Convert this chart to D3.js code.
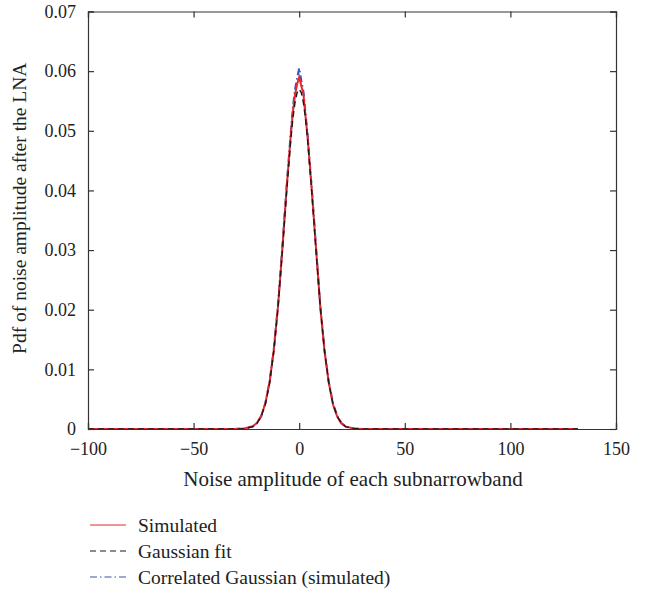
<!DOCTYPE html>
<html>
<head>
<meta charset="utf-8">
<script src="https://cdn.jsdelivr.net/npm/d3@7"></script>
<style>
  body { margin: 0; background: #fff; }
  text { font-family: "Liberation Serif", "DejaVu Serif", serif; fill: #222; }
</style>
</head>
<body>
<div class="container"></div>
<script>
const margin = {
    top: 11.5,
    right: 40,
    bottom: 166,
    left: 88
}

const width = 656 - margin.left - margin.right,
      height = 595 - margin.top - margin.bottom;

// noise amplitude samples
const amplitude = [-100, -60, -40, -30, -26, -22, -20, -18, -16, -14, -12, -10, -8, -6, -4, -3, -2, -1, 0,
    1, 2, 3, 4, 6, 8, 10, 12, 14, 16, 18, 20, 22, 26, 30, 40, 60, 100, 132];

const simulated = [0, 0, 0.00002, 0.00003, 0.00008, 0.00045, 0.0010, 0.0022, 0.0043, 0.0079, 0.0133, 0.0207, 0.0300, 0.0401, 0.0492, 0.0531, 0.0560, 0.0578, 0.0590,
    0.0575, 0.0562, 0.0524, 0.0489, 0.0398, 0.0301, 0.0204, 0.0130, 0.0078, 0.0041, 0.0021, 0.0009, 0.0004, 0.00007, 0.00002, 0, 0, 0, 0];

const gaussianFit = [0, 0, 0, 0.00001, 0.00006, 0.00041, 0.00096, 0.0021, 0.0042, 0.0077, 0.0131, 0.0205, 0.0297, 0.0395, 0.0484, 0.0520, 0.0547, 0.0564, 0.0570,
    0.0564, 0.0547, 0.0520, 0.0484, 0.0395, 0.0297, 0.0205, 0.0131, 0.0077, 0.0042, 0.0021, 0.00096, 0.00041, 0.00006, 0.00001, 0, 0, 0, 0];

const correlated = [0, 0, 0, 0.00001, 0.00006, 0.0004, 0.0010, 0.0021, 0.0044, 0.0080, 0.0135, 0.0210, 0.0305, 0.0405, 0.0497, 0.0538, 0.0569, 0.0588, 0.0605,
    0.0584, 0.0566, 0.0529, 0.0493, 0.0402, 0.0303, 0.0206, 0.0132, 0.0079, 0.0043, 0.0022, 0.0010, 0.0004, 0.00006, 0, 0, 0, 0, 0];

const xTicks = [-100, -50, 0, 50, 100, 150];
const yTicks = [0, 0.01, 0.02, 0.03, 0.04, 0.05, 0.06, 0.07];

const seriesNames = ["Simulated", "Gaussian fit", "Correlated Gaussian (simulated)"];

const series = [
    {name: seriesNames[0], values: simulated, color: "#e8282c", dash: null, w: 2},
    {name: seriesNames[1], values: gaussianFit, color: "#1a1a1a", dash: "6,4", w: 1.4},
    {name: seriesNames[2], values: correlated, color: "#3b55ad", dash: "7,3,1.5,3", w: 2}
];

const svg = d3.select(".container")
    .append("svg")
    .attr("width", 656)
    .attr("height", 595)
    .append("g")
    .attr("transform", `translate(${margin.left}, ${margin.top})`);

const xScale = d3.scaleLinear()
    .domain([-100, 150])
    .range([0, width]);

const yScale = d3.scaleLinear()
    .domain([0, 0.07])
    .range([height, 0]);

const line = d3.line()
    .x((d, i) => xScale(amplitude[i]))
    .y(d => yScale(d));

// curves, drawn under the frame
[series[2], series[0], series[1]].forEach(s => {
    svg.append("path")
        .datum(s.values)
        .attr("d", line)
        .attr("fill", "none")
        .attr("stroke", s.color)
        .attr("stroke-width", s.w)
        .attr("stroke-dasharray", s.dash);
});

// axes with inward ticks on all four sides
const fmtY = d => d === 0 ? "0" : d3.format(".2f")(d);
const fmtX = d => d < 0 ? "\u2212" + Math.abs(d) : d;

const xAxis = svg.append("g")
    .attr("transform", `translate(0, ${height})`)
    .call(d3.axisBottom(xScale).tickValues(xTicks).tickSize(-6).tickPadding(16).tickFormat(fmtX));

const yAxis = svg.append("g")
    .call(d3.axisLeft(yScale).tickValues(yTicks).tickSize(-6).tickPadding(12).tickFormat(fmtY));

svg.append("g")
    .call(d3.axisTop(xScale).tickValues(xTicks).tickSize(-6).tickFormat(""));

svg.append("g")
    .attr("transform", `translate(${width}, 0)`)
    .call(d3.axisRight(yScale).tickValues(yTicks).tickSize(-6).tickFormat(""));

svg.selectAll(".domain, .tick line")
    .attr("stroke", "#333")
    .attr("stroke-width", 1.2);

svg.selectAll(".tick text")
    .style("font-family", "'Liberation Serif', 'DejaVu Serif', serif")
    .style("font-size", "18px")
    .attr("fill", "#222");

xAxis.selectAll(".tick text").attr("dy", "0.55em");

svg.append("text")
    .text("Noise amplitude of each subnarrowband")
    .attr("x", width / 2 + 1)
    .attr("y", height + 57)
    .attr("text-anchor", "middle")
    .style("font-size", "21px");

svg.append("text")
    .text("Pdf of noise amplitude after the LNA")
    .attr("transform", `translate(${-62}, ${height / 2 - 12}) rotate(-90)`)
    .attr("text-anchor", "middle")
    .style("font-size", "19.5px");

// legend
const legend = svg.selectAll(".legend")
    .data(series)
    .join("g")
    .classed("legend", true)
    .attr("transform", (d, i) => `translate(${90 - margin.left}, ${525 - margin.top + i * 26})`);

legend.append("line")
    .attr("x1", 0)
    .attr("x2", 36)
    .attr("stroke", d => d.color)
    .attr("stroke-width", 1.2)
    .attr("stroke-dasharray", d => d.dash);

legend.append("text")
    .text(d => d.name)
    .attr("x", 48)
    .attr("dy", "0.35em")
    .style("font-size", "19.5px");
</script>
</body>
</html>
